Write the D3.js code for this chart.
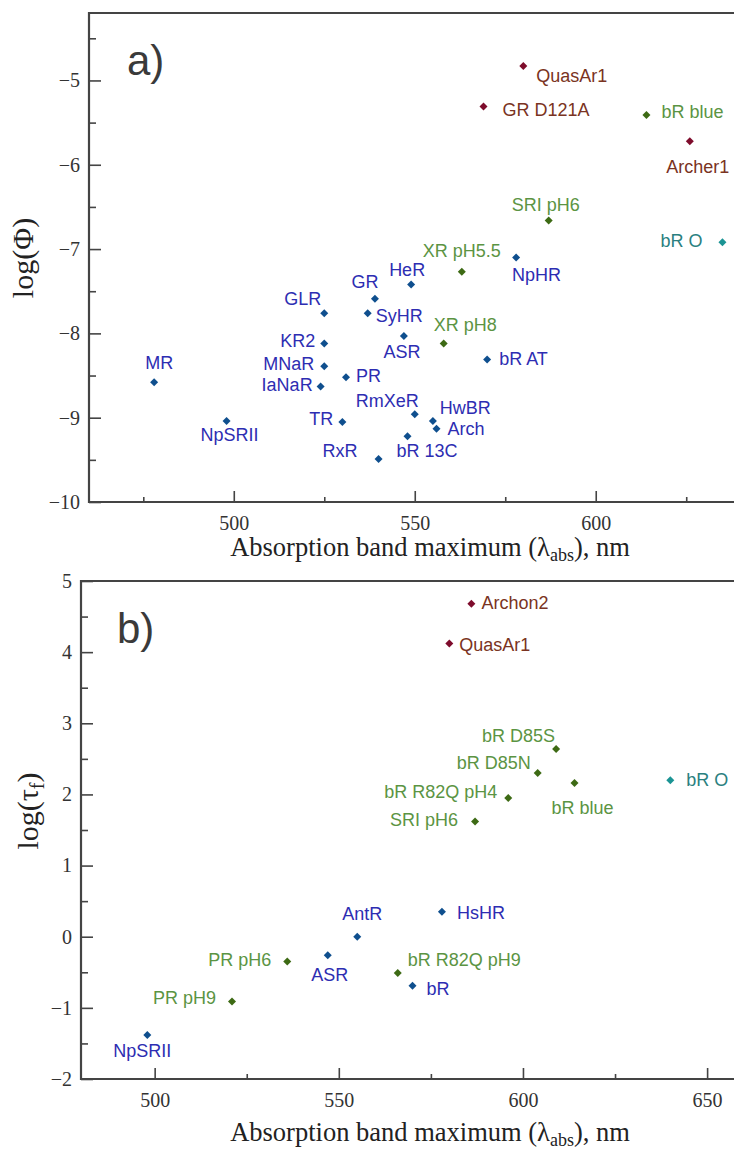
<!DOCTYPE html>
<html>
<head>
<meta charset="utf-8">
<script src="https://cdn.jsdelivr.net/npm/d3@7"></script>
<style>
  html, body { margin: 0; padding: 0; background: #fff; }
  svg { display: block; }
</style>
</head>
<body>
<svg id="chart" width="734" height="1149"></svg>
<script>
// ---------------- DATA ----------------
// Panel a: log(quantum yield) vs absorption maximum
const namesA  = ["QuasAr1","GR D121A","bR blue","Archer1","SRI pH6","bR O","XR pH5.5","NpHR","HeR","GR","SyHR","GLR","ASR","XR pH8","bR AT","KR2","MNaR","IaNaR","PR","MR","NpSRII","TR","RmXeR","HwBR","Arch","bR 13C","RxR"];
const lambdaA = [580, 569, 614, 626, 587, 635, 563, 578, 549, 539, 537, 525, 547, 558, 570, 525, 525, 524, 531, 478, 498, 530, 550, 555, 556, 548, 540];
const logPhiA = [-4.83, -5.31, -5.41, -5.72, -6.66, -6.92, -7.27, -7.10, -7.42, -7.59, -7.76, -7.76, -8.03, -8.12, -8.31, -8.12, -8.39, -8.63, -8.52, -8.58, -9.04, -9.05, -8.96, -9.04, -9.13, -9.22, -9.49];
const groupA  = ["maroon","maroon","green","maroon","green","teal","green","blue","blue","blue","blue","blue","blue","green","blue","blue","blue","blue","blue","blue","blue","blue","blue","blue","blue","blue","blue"];

// Panel b: log(fluorescence lifetime) vs absorption maximum
const namesB  = ["Archon2","QuasAr1","bR D85S","bR D85N","bR blue","bR R82Q pH4","SRI pH6","bR O","HsHR","AntR","ASR","PR pH6","bR R82Q pH9","bR","PR pH9","NpSRII"];
const lambdaB = [586, 580, 609, 604, 614, 596, 587, 640, 578, 555, 547, 536, 566, 570, 521, 498];
const logTauB = [4.68, 4.12, 2.64, 2.30, 2.16, 1.95, 1.62, 2.20, 0.35, 0.00, -0.26, -0.35, -0.51, -0.69, -0.91, -1.38];
const groupB  = ["maroon","maroon","green","green","green","green","green","teal","blue","blue","blue","green","green","blue","green","blue"];

// Tick values
const xTicksA = [500, 550, 600];
const xMinorA = [475, 525, 575, 625];
const yTicksA = [-10, -9, -8, -7, -6, -5];
const yMinorA = [-9.5, -8.5, -7.5, -6.5, -5.5, -4.5];
const xTicksB = [500, 550, 600, 650];
const xMinorB = [525, 575, 625];
const yTicksB = [-2, -1, 0, 1, 2, 3, 4, 5];
const yMinorB = [-1.5, -0.5, 0.5, 1.5, 2.5, 3.5, 4.5];

// ---------------- STYLE / LAYOUT ----------------
const markerColor = { maroon: "#7e0c2c", green: "#3d6a14", teal: "#1b9494", blue: "#0f4f8e" };
const labelColor  = { maroon: "#7a3322", green: "#5b9443", teal: "#2a8080", blue: "#2d2db2" };
const axisColor = "#444";
const sans = "'Liberation Sans', Arial, sans-serif";
const serif = "'Liberation Serif', 'Times New Roman', serif";

// label placement: [anchor, dx, dy]
const placeA = {
  "QuasAr1": ["start", 13, 16], "GR D121A": ["start", 19, 9], "bR blue": ["start", 15, 3],
  "Archer1": ["middle", 8, 32], "SRI pH6": ["middle", -3, -9], "bR O": ["end", -20, 5],
  "XR pH5.5": ["middle", 0, -15], "NpHR": ["start", -4, 23], "HeR": ["middle", -4, -8],
  "GR": ["middle", -10, -11], "SyHR": ["start", 8, 9], "GLR": ["end", -3, -8],
  "ASR": ["middle", -2, 22], "XR pH8": ["start", -10, -12], "bR AT": ["start", 12, 5],
  "KR2": ["end", -9, 4], "MNaR": ["end", -10, 4], "IaNaR": ["end", -8, 5],
  "PR": ["start", 10, 5], "MR": ["middle", 5, -13], "NpSRII": ["middle", 3, 20],
  "TR": ["end", -9, 3], "RmXeR": ["end", 4, -7], "HwBR": ["start", 7, -7],
  "Arch": ["start", 11, 6], "bR 13C": ["start", -11, 21], "RxR": ["end", -21, -2]
};
const placeB = {
  "Archon2": ["start", 10, 5], "QuasAr1": ["start", 10, 7], "bR D85S": ["end", -1, -7],
  "bR D85N": ["end", -7, -4], "bR blue": ["middle", 8, 31], "bR R82Q pH4": ["end", -11, 0],
  "SRI pH6": ["end", -17, 5], "bR O": ["start", 16, 6], "HsHR": ["start", 15, 7],
  "AntR": ["middle", 5, -17], "ASR": ["middle", 2, 26], "PR pH6": ["end", -16, 4],
  "bR R82Q pH9": ["start", 10, -7], "bR": ["start", 14, 9], "PR pH9": ["end", -16, 3],
  "NpSRII": ["middle", -5, 22]
};

const svg = d3.select("#chart");

function panel(cfg) {
  const g = svg.append("g");
  const x = d3.scaleLinear().domain(cfg.xDomain).range([cfg.left, cfg.right]);
  const y = d3.scaleLinear().domain(cfg.yDomain).range([cfg.bottom, cfg.top]);

  // x axis major
  const gx = g.append("g").attr("transform", `translate(0,${cfg.bottom})`)
    .call(d3.axisBottom(x).tickValues(cfg.xTicks).tickSize(-11).tickPadding(9).tickFormat(d3.format("d")));
  gx.select(".domain").remove();
  gx.selectAll(".tick line").attr("stroke", axisColor).attr("stroke-width", 1.6);
  gx.selectAll(".tick text").attr("font-family", serif).attr("font-size", 20).attr("fill", "#333").attr("dy", "0.95em");
  const gxm = g.append("g").attr("transform", `translate(0,${cfg.bottom})`)
    .call(d3.axisBottom(x).tickValues(cfg.xMinor).tickSize(-5).tickFormat(""));
  gxm.select(".domain").remove();
  gxm.selectAll(".tick line").attr("stroke", axisColor).attr("stroke-width", 1.6);

  // y axis major
  const gy = g.append("g").attr("transform", `translate(${cfg.left},0)`)
    .call(d3.axisLeft(y).tickValues(cfg.yTicks).tickSize(-12).tickPadding(9).tickFormat(d3.format("d")));
  gy.select(".domain").remove();
  gy.selectAll(".tick line").attr("stroke", axisColor).attr("stroke-width", 1.6);
  gy.selectAll(".tick text").attr("font-family", serif).attr("font-size", 20).attr("fill", "#333");
  const gym = g.append("g").attr("transform", `translate(${cfg.left},0)`)
    .call(d3.axisLeft(y).tickValues(cfg.yMinor).tickSize(-7).tickFormat(""));
  gym.select(".domain").remove();
  gym.selectAll(".tick line").attr("stroke", axisColor).attr("stroke-width", 1.6);

  // frame (left, bottom, top)
  g.append("path")
    .attr("d", `M${cfg.right + 2},${cfg.top}H${cfg.left}V${cfg.bottom}H${cfg.right + 2}`)
    .attr("fill", "none").attr("stroke", axisColor).attr("stroke-width", 2.2);

  // points
  const data = cfg.names.map((n, i) => ({ name: n, lx: cfg.lambda[i], v: cfg.values[i], grp: cfg.groups[i] }));
  const sym = d3.symbol().type(d3.symbolSquare).size(32);
  g.selectAll("path.pt").data(data).join("path")
    .attr("class", "pt")
    .attr("d", sym)
    .attr("transform", d => `translate(${x(d.lx)},${y(d.v)}) rotate(45)`)
    .attr("fill", d => markerColor[d.grp]);

  g.selectAll("text.lbl").data(data).join("text")
    .attr("class", "lbl")
    .attr("x", d => x(d.lx) + cfg.place[d.name][1])
    .attr("y", d => y(d.v) + cfg.place[d.name][2])
    .attr("text-anchor", d => cfg.place[d.name][0])
    .attr("font-family", sans).attr("font-size", 18)
    .attr("fill", d => labelColor[d.grp])
    .text(d => d.name);

  // panel letter
  g.append("text").attr("x", cfg.letterX).attr("y", cfg.letterY)
    .attr("font-family", sans).attr("font-size", 42).attr("fill", "#3a3a3a").text(cfg.letter);

  // x title
  const xt = g.append("text").attr("x", 430).attr("y", cfg.xTitleY)
    .attr("text-anchor", "middle").attr("font-family", serif).attr("font-size", 26.5).attr("fill", "#222");
  xt.append("tspan").text("Absorption band maximum (λ");
  xt.append("tspan").attr("font-size", 18).attr("dy", 5).text("abs");
  xt.append("tspan").attr("dy", -5).text("), nm");

  // y title
  const yt = g.append("text")
    .attr("transform", `translate(${cfg.yTitleX},${cfg.yTitleY}) rotate(-90)`)
    .attr("text-anchor", "middle").attr("font-family", serif).attr("font-size", 30).attr("fill", "#222");
  cfg.yTitle(yt);
}

panel({
  left: 89, right: 734, top: 13, bottom: 502,
  xDomain: [460, 638.2], yDomain: [-10, -4.2],
  xTicks: xTicksA, xMinor: xMinorA, yTicks: yTicksA, yMinor: yMinorA,
  names: namesA, lambda: lambdaA, values: logPhiA, groups: groupA, place: placeA,
  letter: "a)", letterX: 127, letterY: 75,
  xTitleY: 556, yTitleX: 33, yTitleY: 258,
  yTitle: t => t.text("log(Φ)")
});

panel({
  left: 81, right: 734, top: 581, bottom: 1079,
  xDomain: [480, 657.3], yDomain: [-2, 5],
  xTicks: xTicksB, xMinor: xMinorB, yTicks: yTicksB, yMinor: yMinorB,
  names: namesB, lambda: lambdaB, values: logTauB, groups: groupB, place: placeB,
  letter: "b)", letterX: 117, letterY: 643,
  xTitleY: 1141, yTitleX: 38, yTitleY: 811,
  yTitle: t => { t.append("tspan").text("log(τ"); t.append("tspan").attr("font-size", 20).attr("dy", 6).text("f"); t.append("tspan").attr("dy", -6).text(")"); }
});
</script>
</body>
</html>
